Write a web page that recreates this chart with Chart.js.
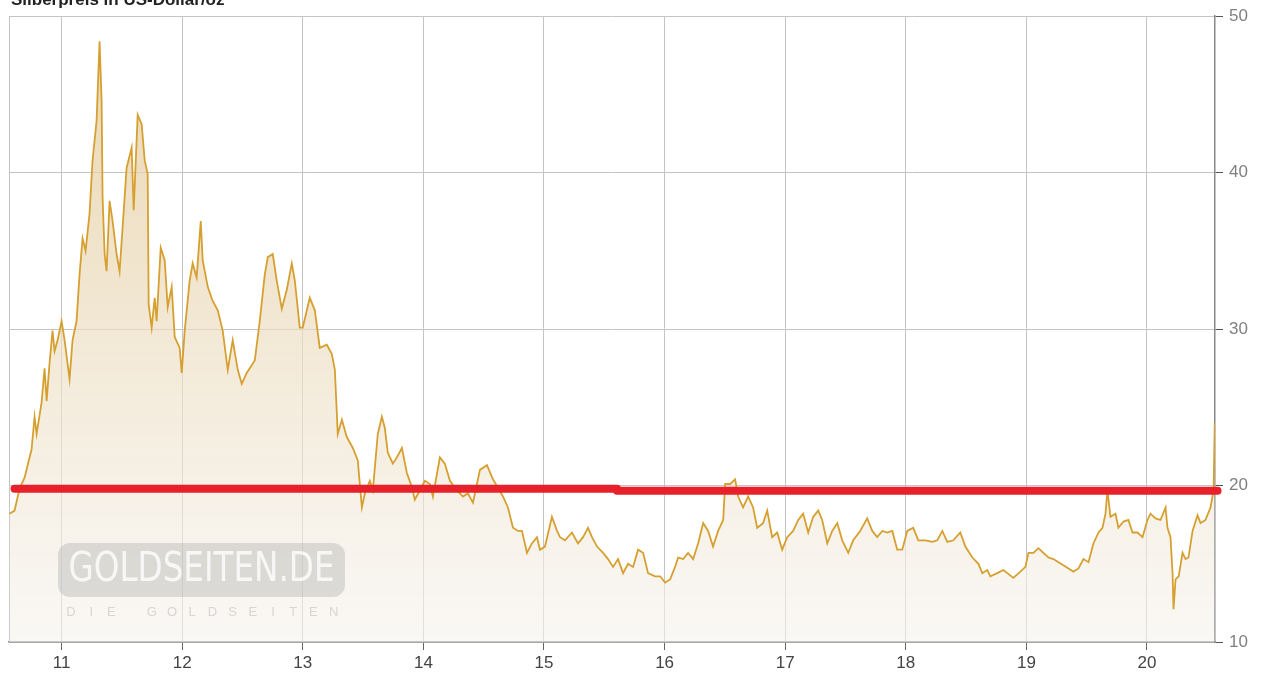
<!DOCTYPE html>
<html>
<head>
<meta charset="utf-8">
<script src="https://cdn.jsdelivr.net/npm/chart.js@4.4.0/dist/chart.umd.min.js"></script>
<style>
  html, body { margin: 0; padding: 0; background: #fff; overflow: hidden; }
  #wrap { position: relative; width: 1268px; height: 675px; }
  #title {
    position: absolute; left: 11px; top: -10px;
    font: bold 17px 'Liberation Sans', Arial, sans-serif; color: #222;
  }
</style>
</head>
<body>
<div id="wrap">
  <canvas id="chart" width="1268" height="675"></canvas>
  <div id="title">Silberpreis in US-Dollar/oz</div>
</div>
<script>
'use strict';

// ─── Data ────────────────────────────────────────────────
const years = [
  10.568,10.610,10.651,10.693,10.751,10.776,10.793,10.834,10.859,10.876,10.900,10.925,10.942,10.967,
  11.000,11.025,11.066,11.091,11.124,11.149,11.174,11.199,11.232,11.257,11.290,11.315,11.332,11.340,
  11.357,11.373,11.398,11.423,11.456,11.481,11.506,11.539,11.581,11.598,11.631,11.664,11.689,11.714,
  11.722,11.747,11.772,11.788,11.822,11.855,11.880,11.913,11.938,11.979,11.996,
  12.021,12.062,12.087,12.120,12.154,12.170,12.212,12.253,12.295,12.336,12.378,12.419,12.461,12.494,
  12.535,12.602,12.643,12.685,12.710,12.751,12.784,12.826,12.867,12.909,12.934,12.975,
  13.000,13.058,13.100,13.141,13.199,13.241,13.266,13.290,13.324,13.365,13.415,13.456,13.490,13.515,
  13.556,13.581,13.622,13.656,13.680,13.705,13.747,13.780,13.822,13.863,13.905,13.929,13.971,
  14.012,14.054,14.079,14.137,14.178,14.220,14.278,14.328,14.369,14.411,14.469,14.527,14.577,14.660,
  14.701,14.743,14.784,14.817,14.859,14.900,14.942,14.967,
  15.008,15.066,15.108,15.133,15.174,15.232,15.282,15.324,15.365,15.398,15.440,15.490,15.531,15.573,
  15.614,15.656,15.697,15.739,15.780,15.822,15.863,15.921,15.963,
  16.004,16.046,16.087,16.112,16.154,16.195,16.237,16.278,16.320,16.361,16.402,16.444,16.486,16.502,
  16.544,16.585,16.610,16.651,16.693,16.734,16.768,16.817,16.851,16.892,16.934,16.975,
  17.017,17.066,17.108,17.149,17.191,17.232,17.274,17.307,17.349,17.390,17.432,17.473,17.523,17.564,
  17.622,17.680,17.722,17.763,17.805,17.846,17.888,17.929,17.971,
  18.012,18.062,18.104,18.162,18.220,18.261,18.303,18.344,18.394,18.452,18.494,18.552,18.602,18.635,
  18.676,18.701,18.759,18.809,18.842,18.892,18.950,18.992,
  19.017,19.058,19.100,19.141,19.183,19.224,19.266,19.307,19.349,19.390,19.432,19.473,19.515,19.556,
  19.598,19.631,19.656,19.672,19.697,19.739,19.763,19.805,19.846,19.880,19.921,19.963,
  20.004,20.029,20.071,20.112,20.154,20.170,20.195,20.212,20.220,20.237,20.263,20.295,20.320,20.344,
  20.378,20.419,20.444,20.485,20.527,20.552,20.562
];

const prices = [
  18.2,18.4,19.8,20.5,22.3,24.4,23.3,25.3,27.5,25.4,27.8,29.9,28.6,29.3,
  30.5,29.3,26.8,29.3,30.5,33.5,35.8,35.0,37.4,40.8,43.3,48.4,44.6,38.4,
  34.8,33.7,38.2,36.9,34.8,33.7,36.5,40.3,41.6,37.6,43.7,43.1,40.8,39.9,
  31.6,30.1,32.0,30.5,35.2,34.4,31.4,32.7,29.5,28.8,27.2,
  29.9,33.1,34.2,33.3,36.9,34.4,32.7,31.8,31.2,29.9,27.4,29.3,27.4,26.5,
  27.2,28.0,30.5,33.5,34.6,34.8,33.1,31.3,32.5,34.2,33.1,30.1,
  30.1,32.0,31.2,28.8,29.0,28.4,27.4,23.3,24.2,23.1,22.4,21.6,18.6,19.5,
  20.3,19.7,23.3,24.4,23.7,22.1,21.4,21.8,22.4,20.8,19.9,19.1,19.7,
  20.3,20.1,19.3,21.8,21.4,20.3,19.7,19.3,19.5,18.9,21.0,21.3,20.4,19.3,
  18.6,17.3,17.1,17.1,15.7,16.3,16.7,15.9,
  16.1,18.0,17.1,16.7,16.5,17.0,16.3,16.7,17.3,16.7,16.1,15.7,15.3,14.8,
  15.3,14.4,15.0,14.8,15.9,15.7,14.4,14.2,14.2,
  13.8,14.0,14.8,15.4,15.3,15.7,15.3,16.3,17.6,17.1,16.1,17.1,17.8,20.1,
  20.1,20.4,19.3,18.6,19.3,18.6,17.3,17.6,18.4,16.7,17.0,15.9,
  16.7,17.1,17.8,18.2,17.0,18.0,18.4,17.8,16.3,17.1,17.6,16.5,15.7,16.5,
  17.1,17.9,17.1,16.7,17.1,17.0,17.1,15.9,15.9,
  17.1,17.3,16.5,16.5,16.4,16.5,17.1,16.4,16.5,17.0,16.1,15.4,15.0,14.4,
  14.6,14.2,14.4,14.6,14.4,14.1,14.5,14.8,
  15.7,15.7,16.0,15.7,15.4,15.3,15.1,14.9,14.7,14.5,14.7,15.3,15.1,16.3,
  17.0,17.3,18.2,19.7,18.0,18.2,17.3,17.7,17.8,17.0,17.0,16.7,
  17.8,18.2,17.9,17.8,18.6,17.3,16.7,14.4,12.1,14.0,14.2,15.7,15.3,15.4,
  17.1,18.1,17.6,17.8,18.6,19.7,24.0
];

const tickYears = [11, 12, 13, 14, 15, 16, 17, 18, 19, 20];
const yTicks = [10, 20, 30, 40, 50];

// red marker line, two pieces
const redLeftX = [10.610, 15.606];
const redLeftY = 19.8;
const redRightX = [15.606, 20.585];
const redRightY = 19.67;

// ─── Plugins ─────────────────────────────────────────────
const decorPlugin = {
  id: 'decor',
  beforeDatasetsDraw(chart) {
    const c = chart.ctx;
    const { left, top, bottom } = chart.chartArea;
    c.save();
    c.strokeStyle = '#c4c4c4';
    c.lineWidth = 1;
    c.beginPath(); c.moveTo(left + 0.5, top); c.lineTo(left + 0.5, bottom); c.stroke();
    c.restore();
  },
  afterDatasetsDraw(chart) {
    const c = chart.ctx;
    c.save();
    // watermark box
    const bx = 58, by = 543, bw = 287, bh = 54, r = 12;
    c.fillStyle = 'rgba(175,175,175,0.4)';
    c.beginPath();
    c.moveTo(bx + r, by);
    c.arcTo(bx + bw, by, bx + bw, by + bh, r);
    c.arcTo(bx + bw, by + bh, bx, by + bh, r);
    c.arcTo(bx, by + bh, bx, by, r);
    c.arcTo(bx, by, bx + bw, by, r);
    c.closePath();
    c.fill();
    c.fillStyle = 'rgba(255,255,255,0.8)';
    c.font = "40px 'DejaVu Sans Condensed', 'Liberation Sans Narrow', sans-serif";
    c.textBaseline = 'middle';
    c.textAlign = 'center';
    c.fillText('GOLDSEITEN.DE', bx + bw / 2, by + bh / 2 + 1, 266);
    c.fillStyle = 'rgba(200,200,200,0.7)';
    c.font = "13px 'Liberation Sans', sans-serif";
    const sub = 'DIEGOLDSEITEN'.split('');
    const gap = [0, 1, 2, 4, 5, 6, 7, 8, 9, 10, 11, 12, 13];
    sub.forEach((ch, i) => {
      c.fillText(ch, 71 + gap[i] * 20.2, 612);
    });
    c.restore();
  },
};

Chart.register(decorPlugin);

// ─── Chart ───────────────────────────────────────────────
const ctx = document.getElementById('chart').getContext('2d');

const pricePoints = years.map((x, i) => ({ x, y: prices[i] }));

function areaFill(context) {
  const area = context.chart.chartArea;
  if (!area) return 'rgba(236,220,190,0.6)';
  const g = context.chart.ctx.createLinearGradient(0, area.top, 0, area.bottom);
  g.addColorStop(0, 'rgba(226,200,150,0.75)');
  g.addColorStop(0.45, 'rgba(236,220,190,0.7)');
  g.addColorStop(1, 'rgba(246,243,238,0.6)');
  return g;
}

new Chart(ctx, {
  type: 'line',
  data: {
    datasets: [
      {
        label: 'Silber',
        data: pricePoints,
        borderColor: '#d6a030',
        borderWidth: 1.8,
        backgroundColor: areaFill,
        fill: 'start',
        pointRadius: 0,
        tension: 0,
        order: 2,
      },
      {
        label: 'Marke links',
        data: redLeftX.map(x => ({ x, y: redLeftY })),
        borderColor: '#e8202a',
        borderWidth: 8,
        borderCapStyle: 'round',
        pointRadius: 0,
        fill: false,
        clip: false,
        order: 1,
      },
      {
        label: 'Marke rechts',
        data: redRightX.map(x => ({ x, y: redRightY })),
        borderColor: '#e8202a',
        borderWidth: 8,
        borderCapStyle: 'round',
        pointRadius: 0,
        fill: false,
        clip: false,
        order: 1,
      },
    ],
  },
  options: {
    responsive: false,
    animation: false,
    layout: { padding: { left: 9, top: 14, right: 0, bottom: 0 } },
    plugins: { legend: { display: false }, tooltip: { enabled: false } },
    scales: {
      x: {
        type: 'linear',
        min: 10.564,
        max: 20.564,
        afterBuildTicks: s => { s.ticks = tickYears.map(v => ({ value: v })); },
        afterFit: s => { s.height = 33; },
        ticks: {
          callback: v => String(v),
          color: '#444',
          font: { family: "'Liberation Sans', Arial, sans-serif", size: 17 },
          padding: 3,
          maxRotation: 0,
        },
        grid: { color: '#c4c4c4', tickColor: '#666', tickLength: 8, lineWidth: 1 },
        border: { color: '#888', width: 1.5 },
      },
      y: {
        position: 'right',
        min: 10,
        max: 50,
        afterBuildTicks: s => { s.ticks = yTicks.map(v => ({ value: v })); },
        afterFit: s => { s.width = 53; },
        ticks: {
          color: '#808080',
          font: { family: "'Liberation Sans', Arial, sans-serif", size: 17 },
          padding: 6,
        },
        grid: { color: '#c4c4c4', tickColor: '#555', tickLength: 8, lineWidth: 1 },
        border: { color: '#888', width: 1.5 },
      },
    },
  },
});
</script>
</body>
</html>
